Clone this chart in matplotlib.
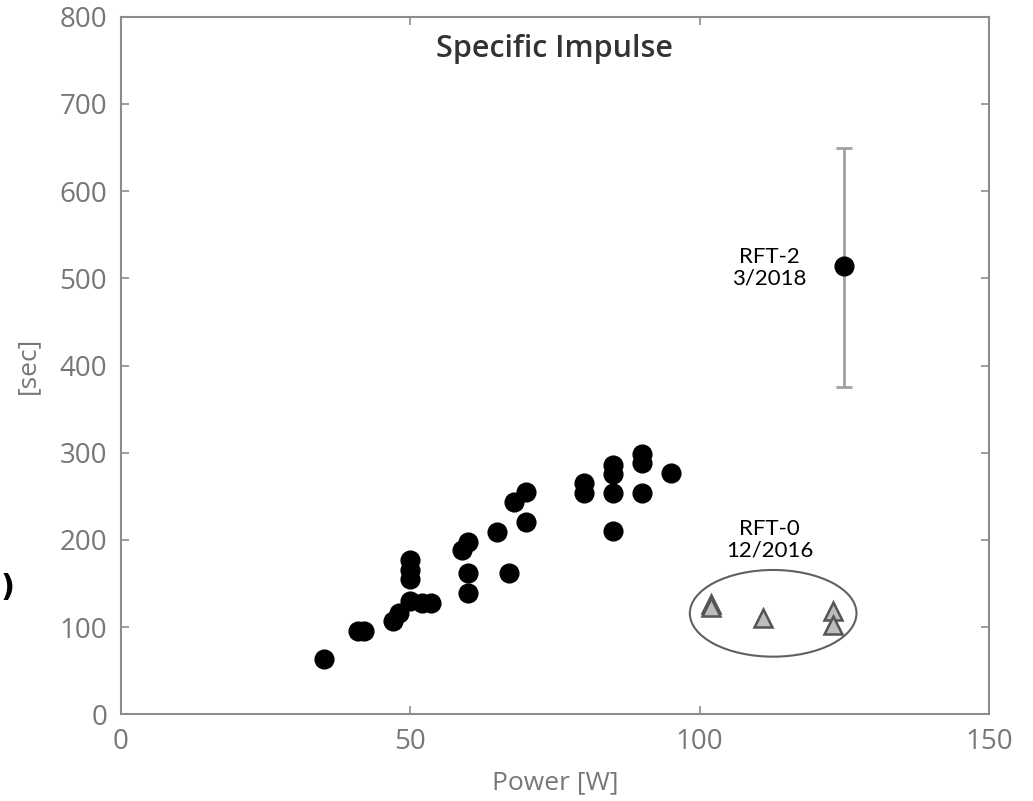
import numpy as np
import matplotlib
matplotlib.use("Agg")
from matplotlib import pyplot as plt
from matplotlib.patches import Ellipse

# measured points (Power [W], Isp [sec])
power = [35, 41, 42, 47, 48, 50, 50, 50, 50, 52, 53.5,
         59, 60, 60, 60, 65, 67, 68, 70, 70,
         80, 80, 85, 85, 85, 85, 90, 90, 90, 95]
isp = [63, 95, 95, 107, 116, 177, 166, 155, 130, 128, 128,
       188, 198, 162, 139, 209, 162, 244, 255, 221,
       265, 254, 286, 276, 254, 210, 299, 288, 254, 277]

# RFT-2 (3/2018) with error bar
rft2_power = [125]
rft2_isp = [514]
rft2_err_low = [139]
rft2_err_high = [136]

# RFT-0 (12/2016)
rft0_power = [102, 102, 111, 123, 123]
rft0_isp = [126, 123, 110, 118, 102]

gray = '#8c8c8c'
txt = '#777777'

fig = plt.figure(figsize=(10.33, 8.01), dpi=100)
ax = fig.add_axes([121/1033, 1-714.3/801, (989-121)/1033, (714.3-16.7)/801])

ax.errorbar(rft2_power, rft2_isp, yerr=[rft2_err_low, rft2_err_high], fmt='none',
            ecolor='#a0a0a0', elinewidth=2, capsize=6, capthick=2, zorder=2)
ax.plot(rft2_power, rft2_isp, 'o', color='black', ms=13.5, zorder=3)
ax.plot(power, isp, 'o', color='black', ms=13.5, zorder=3)
ax.plot(rft0_power, rft0_isp, '^', ms=13, mfc='#bdbdbd', mec='#555555', mew=1.8, zorder=3)

ell = Ellipse((112.7, 115.8), 28.8, 99.4, fill=False, ec='#606060', lw=1.5)
ax.add_patch(ell)

ax.text(112.1, 200, 'RFT-0\n12/2016', ha='center', va='center', fontsize=16,
        family='Lato', linespacing=1.1)
ax.text(112.1, 512, 'RFT-2\n3/2018', ha='center', va='center', fontsize=16,
        family='Lato', linespacing=1.1)

ax.set_xlim(0, 150)
ax.set_ylim(0, 800)
ax.set_xticks([0, 50, 100, 150])
ax.set_yticks(range(0, 801, 100))
ax.tick_params(direction='in', length=6, width=1.2, color=gray, labelcolor=txt,
               labelsize=20, top=True, right=True, pad=10)
for lab in ax.get_xticklabels() + ax.get_yticklabels():
    lab.set_family('Open Sans')
for s in ax.spines.values():
    s.set_color(gray)
    s.set_linewidth(1.5)

ax.set_xlabel('Power [W]', fontsize=19, color=txt, family='Open Sans', labelpad=10)
ax.set_ylabel('[sec]', fontsize=19, color=txt, family='Open Sans', labelpad=14)
ax.text(0.5, 0.975, 'Specific Impulse', transform=ax.transAxes, ha='center', va='top',
        fontsize=22, color='#333333', family='Open Sans', fontweight='semibold')

# cut-off character at the left edge of the source image
fig.text(0.001, 1-588/801, ')', fontsize=22, fontweight='bold', va='center', ha='left')

fig.savefig('out.png', dpi=100, facecolor='white')
